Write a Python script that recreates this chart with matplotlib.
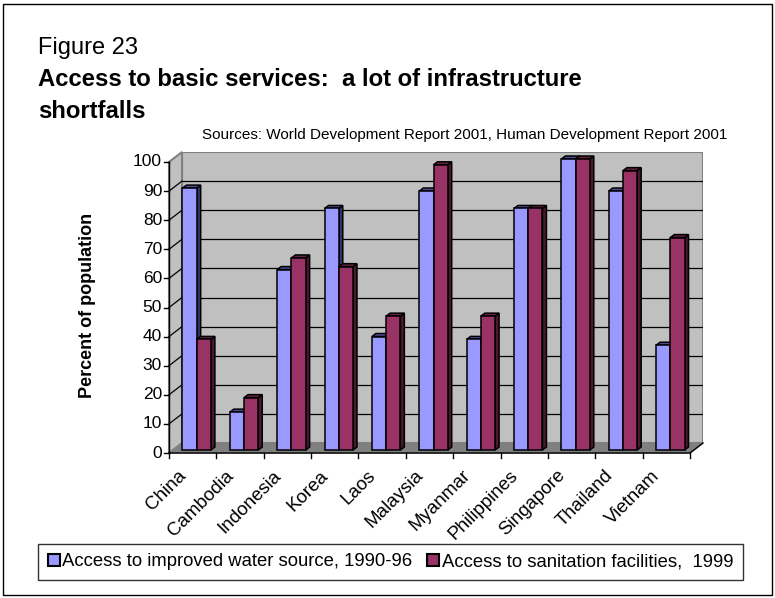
import numpy as np
import matplotlib
matplotlib.use("Agg")
import matplotlib.pyplot as plt
from matplotlib.patches import Rectangle, Polygon
from matplotlib.transforms import offset_copy

plt.rcParams['font.family'] = ['Liberation Sans', 'DejaVu Sans']

countries = ['China', 'Cambodia', 'Indonesia', 'Korea', 'Laos', 'Malaysia',
             'Myanmar', 'Philippines', 'Singapore', 'Thailand', 'Vietnam']
water = [90, 13, 62, 83, 39, 89, 38, 83, 100, 89, 36]
sanitation = [38, 18, 66, 63, 46, 98, 46, 83, 100, 96, 73]
yticks = list(range(0, 101, 10))
series_names = ['Access to improved water source, 1990-96',
                'Access to sanitation facilities,  1999']

BLUE = '#9999FF'
MAROON = '#993366'
BLUE_TOP = '#4D4D99'
BLUE_SIDE = '#33336B'
MAROON_TOP = '#66223F'
MAROON_SIDE = '#4A1830'
WALL = '#C0C0C0'
FLOOR = '#808080'

W, H = 775, 598
fig = plt.figure(figsize=(W / 100, H / 100), dpi=100)

# back wall in pixels: x 182..703, y 152..443 (from top)
wl, wr, wt, wb = 182, 703, 152, 443
ax = fig.add_axes([wl / W, 1 - wb / H, (wr - wl) / W, (wb - wt) / H])
n = len(countries)
ax.set_xlim(0, n)
ax.set_ylim(0, 100)
ax.axis('off')

# pixel -> data conversion
px_x = n / (wr - wl)
px_y = 100 / (wb - wt)
# 3d depth of the whole chart (front plane offset)
ddx, ddy = 13 * px_x, 10 * px_y
# bar plane offset and bar depth
bsx, bsy = 9 * px_x, 7 * px_y
bdx, bdy = 4 * px_x, 3 * px_y

# walls and floor
ax.add_patch(Rectangle((0, 0), n, 100, facecolor=WALL, edgecolor=FLOOR, lw=1.5, zorder=0))
ax.add_patch(Polygon([(0, 0), (0, 100), (-ddx, 100 - ddy), (-ddx, -ddy)], closed=True,
                     facecolor=WALL, edgecolor=FLOOR, lw=1.5, zorder=0, clip_on=False))
ax.add_patch(Polygon([(0, 0), (n, 0), (n - ddx, -ddy), (-ddx, -ddy)], closed=True,
                     facecolor=FLOOR, edgecolor=FLOOR, lw=1, zorder=0, clip_on=False))

# gridlines on back wall and left wall
for v in yticks[1:-1]:
    ax.plot([0, n], [v, v], color='black', lw=0.9, zorder=1)
    ax.plot([-ddx, 0], [v - ddy, v], color='black', lw=0.9, zorder=1, clip_on=False)

# front axes
ax.plot([-ddx, -ddx], [-ddy, 100 - ddy], color='black', lw=1, zorder=2, clip_on=False)
ax.plot([-ddx, n - ddx, n], [-ddy, -ddy, 0], color='black', lw=1, zorder=2, clip_on=False)
for v in yticks:
    ax.plot([-ddx - 5 * px_x, -ddx], [v - ddy, v - ddy], color='black', lw=1, clip_on=False)
    ax.text(-ddx - 7 * px_x, v - ddy, str(v), ha='right', va='center', fontsize=12.5,
            clip_on=False)
for i in range(n + 1):
    ax.plot([i - ddx, i - ddx], [-ddy, -ddy - 5 * px_y], color='black', lw=1, clip_on=False)

lab_tr = offset_copy(ax.transData, fig=fig, x=-15, y=-14, units='dots')
for i, c in enumerate(countries):
    ax.text(i + 0.5 - ddx, -ddy, c, rotation=45, rotation_mode='anchor',
            ha='right', va='top', fontsize=13.5, transform=lab_tr, clip_on=False)

# bars with a little 3d top and side
w = 0.3
x = np.arange(n) + 0.5 - bsx
base = -bsy


def bar3d(x0, val, face, top, side, z):
    x1 = x0 + w
    h = val + base
    ax.add_patch(Polygon([(x1, base), (x1, h), (x1 + bdx, h + bdy), (x1 + bdx, base + bdy)],
                         closed=True, facecolor=side, edgecolor='black', lw=1.1,
                         zorder=z, clip_on=False))
    ax.add_patch(Polygon([(x0, h), (x1, h), (x1 + bdx, h + bdy), (x0 + bdx, h + bdy)],
                         closed=True, facecolor=top, edgecolor='black', lw=1.1,
                         zorder=z, clip_on=False))


for i in range(n):
    bar3d(x[i] - w, water[i], BLUE, BLUE_TOP, BLUE_SIDE, 3)
    bar3d(x[i], sanitation[i], MAROON, MAROON_TOP, MAROON_SIDE, 5)
ax.bar(x - w, water, w, bottom=base, align='edge', color=BLUE, edgecolor='black',
       lw=1.1, zorder=4, clip_on=False)
ax.bar(x, sanitation, w, bottom=base, align='edge', color=MAROON, edgecolor='black',
       lw=1.1, zorder=6, clip_on=False)

# y label
fig.text(88 / W, 1 - 305 / H, 'Percent of population', rotation=90, ha='center',
         va='center', fontsize=13, fontweight='bold')

# titles
fig.text(38 / W, 1 - 54 / H, 'Figure 23', fontsize=17, va='baseline')
fig.text(38 / W, 1 - 86 / H, 'Access to basic services:  a lot of infrastructure',
         fontsize=17.2, fontweight='bold', va='baseline')
fig.text(38 / W, 1 - 118 / H, 'shortfalls', fontsize=17.2, fontweight='bold', va='baseline')
fig.text(727 / W, 1 - 139 / H,
         'Sources: World Development Report 2001, Human Development Report 2001',
         fontsize=11, ha='right', va='baseline')

# legend
handles = [Rectangle((0, 0), 1, 1, facecolor=BLUE, edgecolor='black', lw=1.5),
           Rectangle((0, 0), 1, 1, facecolor=MAROON, edgecolor='black', lw=1.5)]
leg = fig.legend(handles, series_names, loc='center', ncol=2, fontsize=13.3,
                 bbox_to_anchor=((33 + 748) / 2 / W, 1 - 562 / H),
                 frameon=True, fancybox=False, handlelength=0.65, handleheight=0.65,
                 handletextpad=0.15, columnspacing=0.8, borderpad=0.5, borderaxespad=0)
leg.get_frame().set_edgecolor('black')
leg.get_frame().set_linewidth(1)

# outer frame
fig.patches.append(Rectangle((3 / W, 3 / H), 769 / W, 591 / H, transform=fig.transFigure,
                             fill=False, edgecolor='black', lw=1))

fig.savefig('out.png', dpi=100)
